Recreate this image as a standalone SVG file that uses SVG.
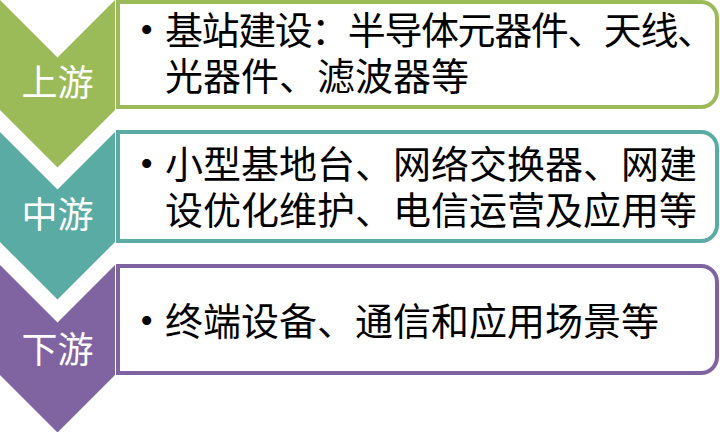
<svg xmlns="http://www.w3.org/2000/svg" width="720" height="432" viewBox="0 0 720 432">
<style>
.lbl{font-family:"Liberation Serif","Noto Sans CJK SC",serif;font-size:36px;fill:#ffffff;text-anchor:middle}
.txt{font-family:"Liberation Serif","Noto Sans CJK SC",serif;font-size:38px;fill:#000000}
.box{fill:#ffffff;stroke-width:4}
</style>
<rect width="720" height="432" fill="#ffffff"/>
<g id="upstream">
<path d="M0,0 L57.5,57.5 L115,0 L115,110 L57.5,167.5 L0,110 Z" fill="#9BBB59"/>
<path class="box" d="M118,2 H701 A16,16 0 0 1 717,18 V91 A16,16 0 0 1 701,107 H118 Z" stroke="#9BBB59"/>
<text class="lbl" x="57.5" y="96">上游</text>
<text class="txt" x="140" y="43">•</text>
<text class="txt" x="165" y="44" textLength="550" lengthAdjust="spacing">基站建设：半导体元器件、天线、</text>
<text class="txt" x="165" y="90">光器件、滤波器等</text>
</g>
<g id="midstream">
<path d="M0,132 L57.5,189.5 L115,132 L115,242 L57.5,299.5 L0,242 Z" fill="#5AABA3"/>
<path class="box" d="M118,132 H701 A16,16 0 0 1 717,148 V225 A16,16 0 0 1 701,241 H118 Z" stroke="#5AABA3"/>
<text class="lbl" x="57.5" y="228">中游</text>
<text class="txt" x="140" y="177">•</text>
<text class="txt" x="165" y="178">小型基地台、网络交换器、网建</text>
<text class="txt" x="165" y="224">设优化维护、电信运营及应用等</text>
</g>
<g id="downstream">
<path d="M0,265 L57.5,322.5 L115,265 L115,375 L57.5,432.5 L0,375 Z" fill="#8064A2"/>
<path class="box" d="M118,266 H701 A16,16 0 0 1 717,282 V357 A16,16 0 0 1 701,373 H118 Z" stroke="#8064A2"/>
<text class="lbl" x="57.5" y="363">下游</text>
<text class="txt" x="140" y="334">•</text>
<text class="txt" x="165" y="335">终端设备、通信和应用场景等</text>
</g>
<g id="connectors"></g>
</svg>
